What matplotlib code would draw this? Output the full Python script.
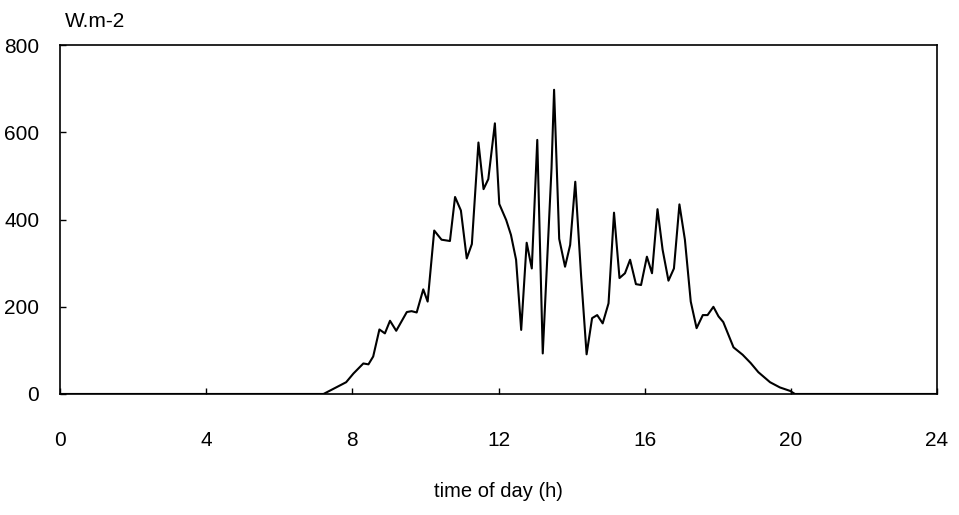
import matplotlib
matplotlib.use('Agg')
import matplotlib.pyplot as plt

plt.rcParams['font.family'] = ['Liberation Sans', 'DejaVu Sans']

# time of day (h) and irradiance (W.m-2)
hours = [0.0, 7.21, 7.83, 8.03, 8.30, 8.44, 8.57, 8.74, 8.89, 9.03, 9.20,
         9.49, 9.62, 9.76, 9.94, 10.06, 10.24, 10.44, 10.67, 10.81, 10.97,
         11.13, 11.27, 11.45, 11.59, 11.72, 11.90, 12.02, 12.21, 12.34, 12.48,
         12.62, 12.77, 12.91, 13.06, 13.21, 13.45, 13.52, 13.66, 13.82, 13.96,
         14.10, 14.26, 14.41, 14.56, 14.70, 14.85, 15.01, 15.16, 15.31, 15.46,
         15.60, 15.76, 15.90, 16.06, 16.20, 16.35, 16.49, 16.65, 16.80, 16.95,
         17.10, 17.26, 17.42, 17.59, 17.72, 17.88, 18.02, 18.15, 18.43, 18.68,
         18.90, 19.11, 19.43, 19.70, 19.98, 20.11, 24.0]
irrad = [0, 0, 27, 47, 70, 68, 86, 148, 139, 168, 145,
         188, 190, 187, 240, 212, 375, 354, 351, 452, 421,
         311, 344, 577, 470, 493, 621, 436, 399, 365, 308,
         147, 347, 288, 583, 93, 518, 698, 356, 292, 342,
         487, 270, 91, 174, 181, 162, 208, 416, 266, 277,
         308, 252, 250, 315, 277, 424, 331, 260, 288, 435,
         354, 212, 151, 181, 181, 200, 178, 165, 107, 90,
         71, 50, 27, 15, 7, 0, 0]

xticks = [0, 4, 8, 12, 16, 20, 24]
yticks = [0, 200, 400, 600, 800]

fig = plt.figure(figsize=(9.59, 5.15), dpi=100)
ax = fig.add_axes([0.0626, 0.235, 0.9145, 0.677])

ax.plot(hours, irrad, color='black', linewidth=1.5)

ax.set_xlim(0, 24)
ax.set_ylim(0, 800)
ax.set_xticks(xticks)
ax.set_yticks(yticks)
ax.tick_params(direction='in', length=4, width=1, labelsize=15)
ax.tick_params(axis='x', pad=27)
ax.tick_params(axis='y', pad=15)
for s in ax.spines.values():
    s.set_linewidth(1.2)

ax.set_xlabel('time of day (h)', fontsize=14.5, labelpad=23)
fig.text(65 / 959, 1 - 27 / 515, 'W.m-2', fontsize=15, ha='left', va='baseline')

plt.savefig('out.png', dpi=100)
